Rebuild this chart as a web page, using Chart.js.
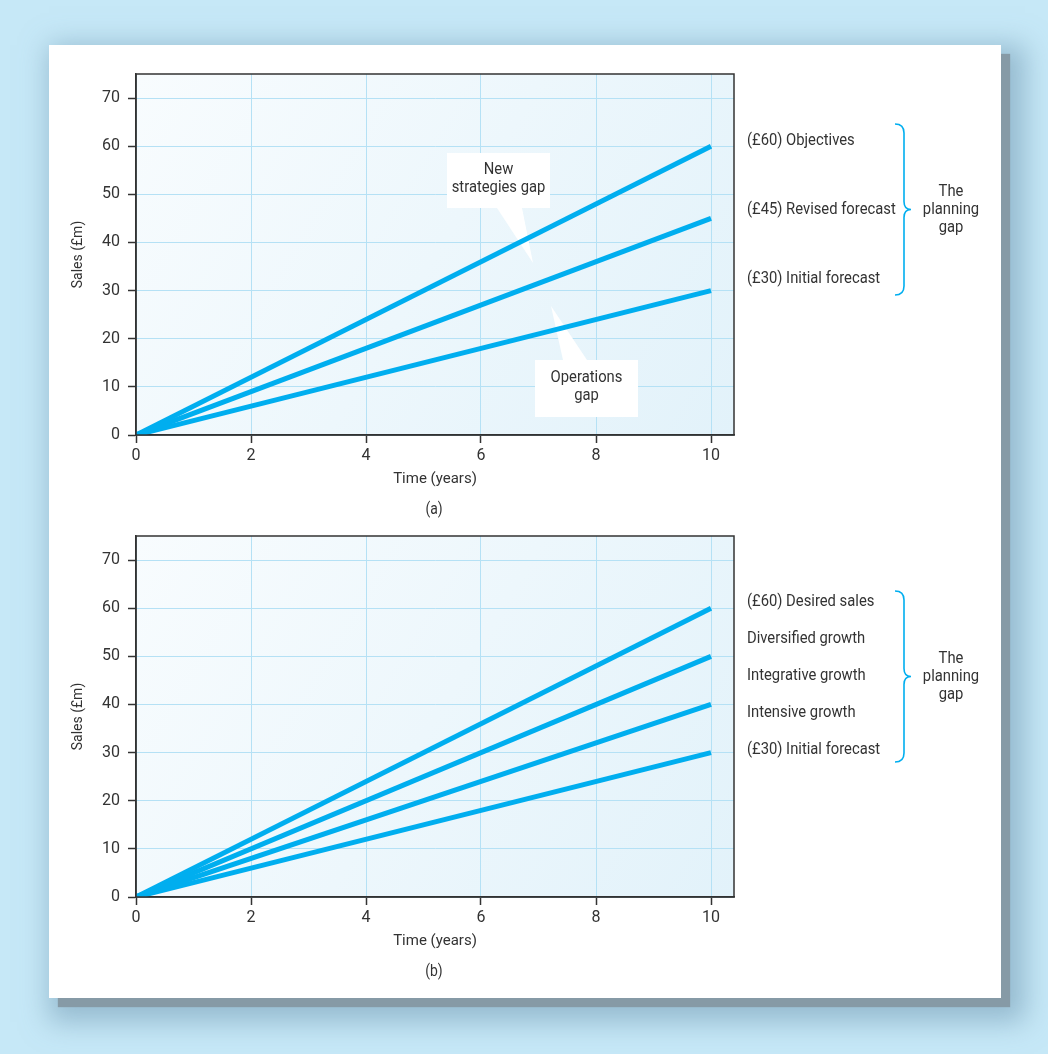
<!DOCTYPE html>
<html>
<head>
<meta charset="utf-8">
<script src="https://cdn.jsdelivr.net/npm/chart.js@4/dist/chart.umd.min.js"></script>
<style>
  html, body { margin: 0; padding: 0; background: #c6e8f7; width: 1048px; height: 1054px; overflow: hidden; }
  #panel { position: absolute; left: 49px; top: 45px; width: 952px; height: 953px; background: #fff;
           box-shadow: 9px 9px 1px #869aa6, 12px 12px 26px 12px rgba(110, 150, 175, 0.55); }
  canvas { position: absolute; left: 0; }
</style>
</head>
<body>
<div id="panel"></div>
<canvas id="chartA" width="1048" height="520" style="top:0"></canvas>
<canvas id="chartB" width="1048" height="520" style="top:462px"></canvas>
<script>
// data
var years = [0, 10];
var objectives = [0, 60];
var revisedForecast = [0, 45];
var initialForecast = [0, 30];

var desiredSales = [0, 60];
var diversifiedGrowth = [0, 50];
var integrativeGrowth = [0, 40];
var initialForecastB = [0, 30];

var yTicks = [0, 10, 20, 30, 40, 50, 60, 70];
var xTicks = [0, 2, 4, 6, 8, 10];

var labelsA = ["(£60) Objectives", "(£45) Revised forecast", "(£30) Initial forecast"];
var labelsB = ["(£60) Desired sales", "Diversified growth", "Integrative growth", "Intensive growth", "(£30) Initial forecast"];

var FONT = "'Liberation Sans Narrow', 'Roboto', sans-serif";
var INK = "#333333";
var BLUE = "#00aeef";

function points(ys) {
  return years.map(function (x, i) { return {x: x, y: ys[i]}; });
}

// narrow text, the original uses a condensed face
function narrowText(ctx, t, x, y, align) {
  ctx.save();
  ctx.translate(x, y);
  ctx.scale(0.87, 1);
  ctx.textAlign = align;
  ctx.fillText(t, 0, 0);
  ctx.restore();
}

var gapPlugin = {
  id: "gapNotes",
  beforeDraw: function (chart) {
    var a = chart.chartArea, ctx = chart.ctx;
    var g = ctx.createLinearGradient(a.left, a.top, a.right, a.bottom);
    g.addColorStop(0, "#f8fcfe");
    g.addColorStop(1, "#e2f2fa");
    ctx.save();
    ctx.fillStyle = g;
    ctx.fillRect(a.left, a.top, a.right - a.left, a.bottom - a.top);
    ctx.restore();
  },
  beforeDatasetsDraw: function (chart, args, opts) {
    var a = chart.chartArea, ctx = chart.ctx;
    ctx.save();
    (opts.callouts || []).forEach(function (c) {
      ctx.fillStyle = "#ffffff";
      ctx.fillRect(a.left + c.box[0], a.top + c.box[1], c.box[2], c.box[3]);
      ctx.beginPath();
      ctx.moveTo(a.left + c.base[0], a.top + c.base[2]);
      ctx.lineTo(a.left + c.base[1], a.top + c.base[2]);
      ctx.lineTo(a.left + c.tip[0], a.top + c.tip[1]);
      ctx.closePath();
      ctx.fill();
      ctx.fillStyle = INK;
      ctx.font = "17px " + FONT;
      ctx.textBaseline = "middle";
      c.text.forEach(function (t, i) {
        narrowText(ctx, t, a.left + c.box[0] + c.box[2] / 2, a.top + c.textY + i * 18, "center");
      });
    });
    ctx.restore();
  },
  afterDraw: function (chart, args, opts) {
    var a = chart.chartArea, ctx = chart.ctx;
    ctx.save();
    // frame
    ctx.strokeStyle = INK;
    ctx.lineWidth = 1.5;
    ctx.strokeRect(a.left, a.top, a.right - a.left, a.bottom - a.top);

    // labels on the right
    ctx.fillStyle = INK;
    ctx.font = "17px " + FONT;
    ctx.textBaseline = "middle";
    opts.labels.forEach(function (t, i) {
      narrowText(ctx, t, a.right + 13, a.top + opts.labelTop + i * opts.labelStep, "left");
    });

    // brace
    var bx = a.right + 170, top = a.top + opts.braceTop, bot = a.top + opts.braceBottom, mid = (top + bot) / 2;
    ctx.strokeStyle = BLUE;
    ctx.lineWidth = 1.6;
    ctx.beginPath();
    ctx.moveTo(bx - 9, top);
    ctx.quadraticCurveTo(bx, top, bx, top + 9);
    ctx.lineTo(bx, mid - 8);
    ctx.quadraticCurveTo(bx, mid, bx + 7, mid);
    ctx.quadraticCurveTo(bx, mid, bx, mid + 8);
    ctx.lineTo(bx, bot - 9);
    ctx.quadraticCurveTo(bx, bot, bx - 9, bot);
    ctx.stroke();

    ["The", "planning", "gap"].forEach(function (t, i) {
      narrowText(ctx, t, bx + 47, mid + (i - 1) * 18, "center");
    });

    // panel caption
    ctx.font = "16px " + FONT;
    narrowText(ctx, opts.caption, (a.left + a.right) / 2 - 1, a.bottom + 75, "center");
    ctx.restore();
  }
};

function makeOptions(notes) {
  return {
    responsive: false,
    animation: false,
    layout: {padding: {left: 60, right: 314, top: 74, bottom: 30}},
    plugins: {
      legend: {display: false},
      tooltip: {enabled: false},
      gapNotes: notes
    },
    elements: {
      point: {radius: 0},
      line: {borderWidth: 5, borderColor: BLUE, borderCapStyle: "butt", tension: 0}
    },
    scales: {
      x: {
        type: "linear",
        min: 0,
        max: 10.4,
        afterBuildTicks: function (s) { s.ticks = xTicks.map(function (v) { return {value: v}; }); },
        afterFit: function (s) { s.height = 55; },
        grid: {color: "#b5e1f5", lineWidth: 1, tickLength: 8, tickColor: INK, tickWidth: 1.5},
        border: {color: INK, width: 1.5},
        ticks: {color: INK, font: {family: FONT, size: 16}, padding: 3, maxRotation: 0},
        title: {display: true, text: "Time (years)", color: INK, font: {family: FONT, size: 15}, padding: {top: 0, bottom: 2}}
      },
      y: {
        min: 0,
        max: 75,
        afterBuildTicks: function (s) { s.ticks = yTicks.map(function (v) { return {value: v}; }); },
        afterFit: function (s) { s.width = 76; },
        grid: {color: "#b5e1f5", lineWidth: 1, tickLength: 8, tickColor: INK, tickWidth: 1.5},
        border: {color: INK, width: 1.5},
        ticks: {color: INK, font: {family: FONT, size: 16}, padding: 8},
        title: {display: true, text: "Sales (£m)", color: INK, font: {family: FONT, size: 14}, padding: {top: 10, bottom: 0}}
      }
    }
  };
}

new Chart(document.getElementById("chartA"), {
  type: "line",
  data: {
    datasets: [
      {label: "Objectives", data: points(objectives)},
      {label: "Revised forecast", data: points(revisedForecast)},
      {label: "Initial forecast", data: points(initialForecast)}
    ]
  },
  options: makeOptions({
    labels: labelsA, labelTop: 67, labelStep: 69, braceTop: 50, braceBottom: 221, caption: "(a)",
    callouts: [
      {box: [311, 79, 103, 55], base: [361, 386, 134], tip: [397, 189], text: ["New", "strategies gap"], textY: 96},
      {box: [399, 286, 103, 57], base: [427, 451, 286], tip: [415, 232], text: ["Operations", "gap"], textY: 304}
    ]
  }),
  plugins: [gapPlugin]
});

new Chart(document.getElementById("chartB"), {
  type: "line",
  data: {
    datasets: [
      {label: "Desired sales", data: points(desiredSales)},
      {label: "Diversified growth", data: points(diversifiedGrowth)},
      {label: "Integrative growth", data: points(integrativeGrowth)},
      {label: "Initial forecast", data: points(initialForecastB)}
    ]
  },
  options: makeOptions({
    labels: labelsB, labelTop: 66, labelStep: 37, braceTop: 55, braceBottom: 226, caption: "(b)",
    callouts: []
  }),
  plugins: [gapPlugin]
});
</script>
</body>
</html>
